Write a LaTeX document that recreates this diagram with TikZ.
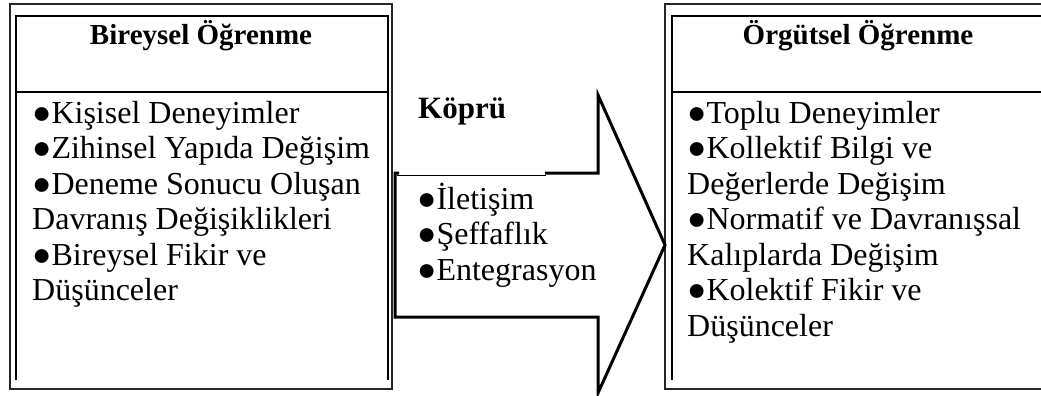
\documentclass[tikz,border=0pt]{standalone}
\usepackage{fontspec}
\setmainfont{Liberation Serif}
\tikzset{
  outerframe/.style={draw=black!85, line width=1.3pt},
  innerframe/.style={draw=black, line width=2.2pt},
  arrowline/.style={draw=black, line width=3pt, line join=miter},
  thinline/.style={draw=black, line width=1pt},
  titletext/.style={inner sep=0pt, anchor=base, font=\fontsize{29}{34}\selectfont\bfseries},
  bodytext/.style={inner sep=0pt, anchor=base west, align=left},
}
\newcommand{\bodyblock}[2]{\parbox[t]{#1}{\fontsize{32}{35.5}\selectfont\raggedright #2}}
\begin{document}
\begin{tikzpicture}[x=1pt,y=-1pt]
\useasboundingbox (0,0) rectangle (1041,396);
% left box
\draw[outerframe] (10,4) rectangle (392,389);
\draw[innerframe] (16,380) -- (16,16) -- (388,16) -- (388,380);
\draw[innerframe] (16,92) -- (388,92);
% right box
\draw[outerframe] (1050,4) -- (665,4) -- (665,389) -- (1050,389);
\draw[innerframe] (672,380) -- (672,16) -- (1050,16);
\draw[innerframe] (672,92) -- (1050,92);
% arrow
\coordinate (a1) at (545,173);
\coordinate (a2) at (598,173);
\coordinate (a3) at (598,95);
\coordinate (tip) at (665,245);
\coordinate (a5) at (598,393);
\coordinate (a6) at (598,317);
\coordinate (a7) at (395,317);
\coordinate (a8) at (395,173);
\coordinate (a9) at (399,173);
\coordinate (t1) at (397,175);
\coordinate (t2) at (546,175);
\draw[arrowline] (a1) -- (a2) -- (a3) -- (tip) -- (a5) -- (a6) -- (a7) -- (a8) -- (a9);
\draw[thinline] (t1) -- (t2);
% titles
\node[titletext] (tl) at (201,45) {Bireysel Öğrenme};
\node[titletext] (tr) at (858,45) {Örgütsel Öğrenme};
\node[titletext, anchor=base west, font=\fontsize{31}{35}\selectfont\bfseries] (kp) at (418,118) {Köprü};
% bodies
\node[bodytext] (bl) at (32,123) {\bodyblock{360pt}{●Kişisel Deneyimler\\●Zihinsel Yapıda Değişim\\●Deneme Sonucu Oluşan\\Davranış Değişiklikleri\\●Bireysel Fikir ve\\Düşünceler}};
\node[bodytext] (bm) at (417,209) {\bodyblock{180pt}{●İletişim\\●Şeffaflık\\●Entegrasyon}};
\node[bodytext] (br) at (687,123) {\bodyblock{360pt}{●Toplu Deneyimler\\●Kollektif Bilgi ve\\Değerlerde Değişim\\●Normatif ve Davranışsal\\Kalıplarda Değişim\\●Kolektif Fikir ve\\Düşünceler}};
\end{tikzpicture}
\end{document}
